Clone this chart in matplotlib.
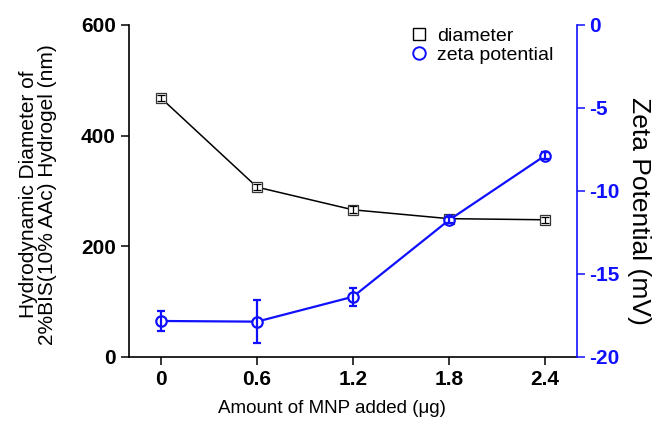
import matplotlib
matplotlib.use("Agg")
import matplotlib.pyplot as plt
from matplotlib.lines import Line2D

plt.rcParams['font.family'] = ['Liberation Sans', 'DejaVu Sans']
plt.rcParams['axes.unicode_minus'] = False

# data
mnp = [0, 0.6, 1.2, 1.8, 2.4]
diameter = [468, 307, 266, 250, 248]
diameter_err = [6, 6, 6, 5, 5]
zeta = [-17.83, -17.87, -16.37, -11.75, -7.87]
zeta_err = [0.62, 1.31, 0.54, 0.2, 0.2]

xticks = [0, 0.6, 1.2, 1.8, 2.4]
blue = '#1010ff'

fig = plt.figure(figsize=(6.67, 4.25), dpi=100)
ax = fig.add_axes([0.1934, 0.16, 0.6717, 0.7812])
ax2 = ax.twinx()

# diameter (left axis)
ax.plot(mnp, diameter, '-', color='black', lw=1.1, zorder=2)
ax.plot(mnp, diameter, 's', ms=6.5, mfc='white', mec='#333333', mew=0.9, zorder=3)
ax.errorbar(mnp, diameter, yerr=diameter_err, fmt='none', ecolor='black',
            elinewidth=0.9, capsize=3, capthick=0.9, zorder=4)

# zeta potential (right axis)
ax2.plot(mnp, zeta, '-', color=blue, lw=1.6, zorder=2)
ax2.plot(mnp, zeta, 'o', ms=7.5, mfc='white', mec=blue, mew=1.6, zorder=3)
ax2.errorbar(mnp, zeta, yerr=zeta_err, fmt='none', ecolor=blue,
             elinewidth=1.6, capsize=3, capthick=1.6, zorder=4)

ax.set_xlim(-0.2, 2.6)
ax.set_ylim(0, 600)
ax2.set_ylim(-20, 0)
ax.set_xticks(xticks)
ax.set_xticklabels(['0', '0.6', '1.2', '1.8', '2.4'])
ax.set_yticks([0, 200, 400, 600])
ax2.set_yticks([0, -5, -10, -15, -20])

for a in (ax, ax2):
    a.spines['top'].set_visible(False)
ax.spines['right'].set_visible(False)
ax.spines['left'].set_linewidth(1.2)
ax.spines['bottom'].set_linewidth(1.2)
ax2.spines['left'].set_visible(False)
ax2.spines['bottom'].set_visible(False)
ax2.spines['right'].set_color(blue)
ax2.spines['right'].set_linewidth(1.2)

ax.tick_params(axis='both', direction='out', length=5.5, width=1.1, labelsize=15, pad=4)
ax2.tick_params(axis='y', direction='out', length=6, width=1.1, labelsize=15, pad=3,
                colors=blue)
for lab in ax.get_xticklabels() + ax.get_yticklabels() + ax2.get_yticklabels():
    lab.set_fontweight('bold')

ax.set_xlabel('Amount of MNP added (μg)', fontsize=13.5)
ax.xaxis.set_label_coords(0.453, -0.13)
ax.set_ylabel('Hydrodynamic Diameter of\n2%BIS(10% AAc) Hydrogel (nm)', fontsize=15,
              linespacing=1.0)
ax.yaxis.set_label_coords(-0.16, 0.49)
ax2.set_ylabel('Zeta Potential (mV)', fontsize=19, rotation=270, va='bottom')
ax2.yaxis.set_label_coords(1.112, 0.44)

handles = [
    Line2D([], [], ls='none', marker='s', ms=9, mfc='white', mec='black', mew=1.0),
    Line2D([], [], ls='none', marker='o', ms=9, mfc='white', mec=blue, mew=1.4),
]
ax2.legend(handles, ['diameter', 'zeta potential'], loc='upper left',
           bbox_to_anchor=(0.6, 1.035), frameon=False, fontsize=14,
           handlelength=0.8, handletextpad=0.5, labelspacing=0.1, borderpad=0.2)

fig.savefig('out.png', dpi=100)
